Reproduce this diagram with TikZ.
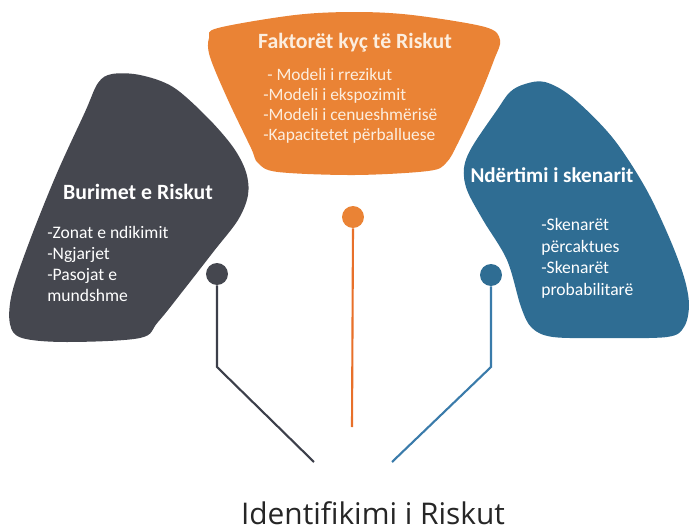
\documentclass[tikz,border=0pt]{standalone}
\usepackage{fontspec}
\setmainfont{Carlito}
\newfontfamily\titlefont{Open Sans}
\usetikzlibrary{positioning}
\definecolor{rorange}{HTML}{EA8335}
\definecolor{rgray}{HTML}{45474F}
\definecolor{rblue}{HTML}{2F6D93}
\definecolor{lgray}{HTML}{3C3F4A}
\definecolor{lorange}{HTML}{E8702A}
\definecolor{lblue}{HTML}{3A7BAA}
\definecolor{ltext}{HTML}{FCEEDF}
\tikzset{
  blob/.style={smooth cycle, tension=0.55},
  head/.style={font=\bfseries\fontsize{12.4}{14}\selectfont, text=white},
  items/.style={font=\fontsize{9.9}{11.4}\selectfont, align=left, anchor=north west, text=white, inner sep=0pt},
  dot/.style={circle, minimum size=12.5pt, inner sep=0pt},
  wire/.style={line width=1.2pt}
}
\begin{document}
\begin{tikzpicture}[x=0.02cm, y=-0.02cm]
      \useasboundingbox (0,0) rectangle (691,531);
      \fill[rorange] plot[blob] coordinates {(218,28) (295,15) (355,12) (412,15) (485,27) (500,40) (494,60) (478,100) (458,143) (446,163) (428,171) (355,175) (278,172) (258,163) (251,148) (228,100) (210,57) (209,38)};
      \fill[rgray] plot[blob] coordinates {(98,83) (112,74) (140,75) (173,87) (207,117) (233,147) (246,172) (248,195) (238,220) (214,251) (186,287) (158,322) (140,338) (67,342) (22,338) (10,324) (12,293) (30,240) (57,173) (85,112)};
      \fill[rblue] plot[blob] coordinates {(510,92) (525,84) (545,82) (572,97) (612,137) (645,187) (669,237) (684,277) (689,305) (684,327) (667,337) (603,338) (553,337) (532,328) (521,307) (507,260) (483,220) (467,190) (464,168) (472,147) (497,110)};
      \node[head, text=ltext] (fhead) at (355,43) {Faktorët kyç të Riskut};
      \node[items, text=ltext] (flist) at (263,68) {~- Modeli i rrezikut\\-Modeli i ekspozimit\\-Modeli i cenueshmërisë\\-Kapacitetet përballuese};
      \node[head] (bhead) at (138,192) {Burimet e Riskut};
      \node[items, font=\fontsize{10}{12}\selectfont] (blist) at (47,226) {-Zonat e ndikimit\\-Ngjarjet\\-Pasojat e\\mundshme};
      \node[head, font=\bfseries\fontsize{12}{14}\selectfont] (nhead) at (552,175) {Ndërtimi i skenarit};
      \node[items, font=\fontsize{10}{12.3}\selectfont] (nlist) at (541,218) {-Skenarët\\ përcaktues\\-Skenarët\\probabilitarë};
      \node[dot, fill=rgray] (dg) at (217,274) {};
      \node[dot, fill=rorange] (do) at (353,217) {};
      \node[dot, fill=rblue] (db) at (491,275) {};
      \coordinate (gk) at (217,367);
      \coordinate (ge) at (314,462);
      \coordinate (oe) at (352,427);
      \coordinate (bk) at (491,367);
      \coordinate (be) at (392,462);
      \draw[wire, lgray] (dg.south) -- (gk) -- (ge);
      \draw[wire, lorange] (do.south) -- (oe);
      \draw[wire, lblue] (db.south) -- (bk) -- (be);
      \node[font=\titlefont\fontsize{17}{19}\selectfont, text=black!85] (title) at (373,513) {Identifikimi i Riskut};
   \end{tikzpicture}
\end{document}
